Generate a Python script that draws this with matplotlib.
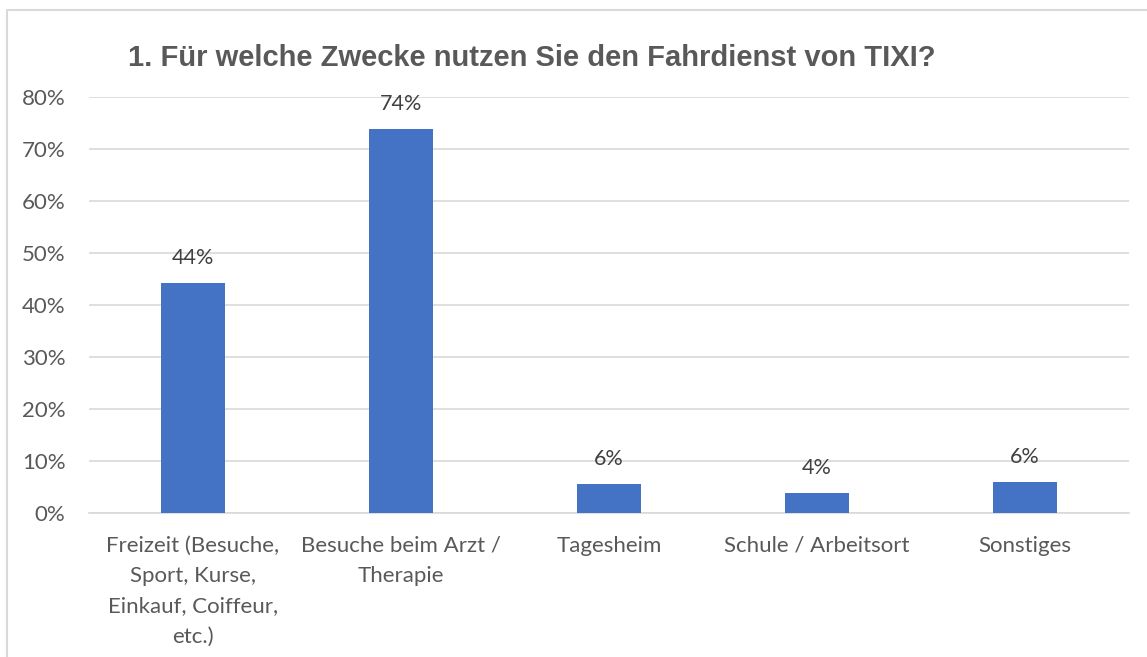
"""
Bar chart: Zwecke fuer die Nutzung des TIXI-Fahrdienstes (Umfrage, Frage 1).
"""

import matplotlib.pyplot as plt
from matplotlib.lines import Line2D
from matplotlib.ticker import PercentFormatter

# Survey answers, share of respondents
CATEGORIES = [
    "Freizeit (Besuche,\nSport, Kurse,\nEinkauf, Coiffeur,\netc.)",
    "Besuche beim Arzt /\nTherapie",
    "Tagesheim",
    "Schule / Arbeitsort",
    "Sonstiges",
]
SHARES = [0.443, 0.739, 0.056, 0.038, 0.059]
VALUE_LABELS = ["44%", "74%", "6%", "4%", "6%"]
Y_TICKS = [0.0, 0.1, 0.2, 0.3, 0.4, 0.5, 0.6, 0.7, 0.8]

TITLE = "1. Für welche Zwecke nutzen Sie den Fahrdienst von TIXI?"

BAR_COLOR = "#4472C4"
TEXT_COLOR = "#595959"
GRID_COLOR = "#D9D9D9"

W, H = 1147, 657


def main() -> None:
    fig = plt.figure(figsize=(W / 100, H / 100), dpi=100)
    ax = fig.add_axes([89 / W, 1 - 513 / H, (1129 - 89) / W, (513 - 97) / H])

    x = range(len(CATEGORIES))
    bars = ax.bar(x, SHARES, width=0.31, color=BAR_COLOR, zorder=3)

    for rect, label in zip(bars, VALUE_LABELS):
        ax.annotate(
            label,
            (rect.get_x() + rect.get_width() / 2, rect.get_height()),
            xytext=(0, 18), textcoords="offset points",
            ha="center", va="center", fontsize=15.5,
            family="Lato", color="#404040",
        )

    ax.set_xlim(-0.5, len(CATEGORIES) - 0.5)
    ax.set_ylim(0, 0.8)
    ax.set_yticks(Y_TICKS)
    ax.yaxis.set_major_formatter(PercentFormatter(1.0, decimals=0))
    ax.set_xticks(list(x))
    ax.set_xticklabels(CATEGORIES, linespacing=1.64)

    ax.grid(axis="y", color=GRID_COLOR, linewidth=1.2, zorder=0)
    for side in ("top", "right", "left"):
        ax.spines[side].set_visible(False)
    ax.spines["bottom"].set_color(GRID_COLOR)
    ax.spines["bottom"].set_linewidth(1.2)

    ax.tick_params(axis="both", length=0, labelsize=16, labelcolor=TEXT_COLOR)
    ax.tick_params(axis="y", pad=17)
    ax.tick_params(axis="x", pad=16.5)
    for lbl in ax.get_xticklabels() + ax.get_yticklabels():
        lbl.set_family("Lato")
    for lbl in ax.get_xticklabels():
        lbl.set_verticalalignment("top")

    fig.text(128 / W, 1 - 58 / H, TITLE, ha="left", va="center",
             fontsize=21, fontweight="bold", family="Liberation Sans",
             color=TEXT_COLOR)

    # light chart frame, cropped on the right and bottom
    fig.add_artist(Line2D([7 / W, 7 / W, 1.0], [0.0, 1 - 10 / H, 1 - 10 / H],
                          transform=fig.transFigure, color=GRID_COLOR,
                          linewidth=1.5))

    fig.savefig("out.png", dpi=100)
    plt.close(fig)


if __name__ == "__main__":
    main()
